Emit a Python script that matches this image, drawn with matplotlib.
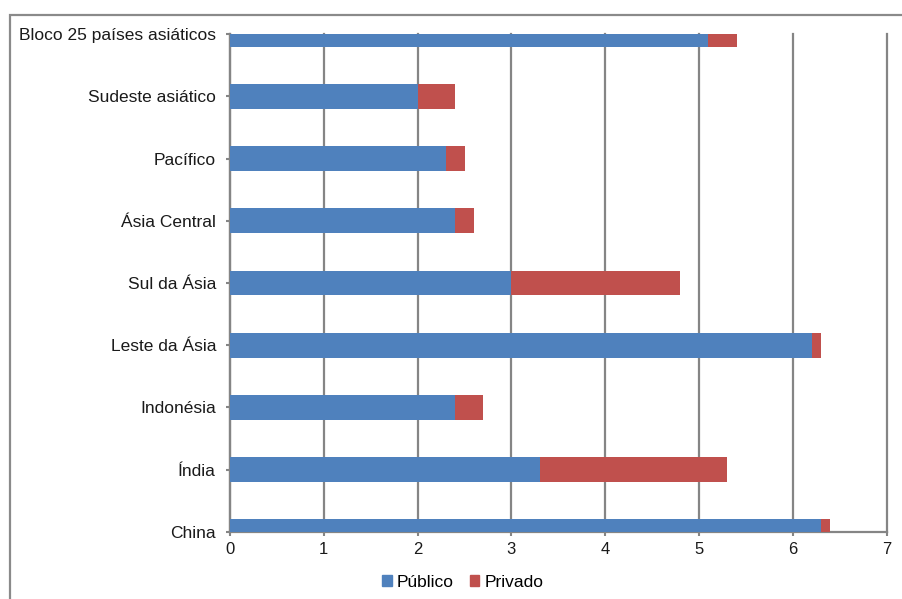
import matplotlib
matplotlib.use("Agg")
import matplotlib.pyplot as plt
from matplotlib.patches import Rectangle, Patch

# spending shares by region, bottom to top
regioes = ["China", "Índia", "Indonésia", "Leste da Ásia", "Sul da Ásia",
           "Ásia Central", "Pacífico", "Sudeste asiático",
           "Bloco 25 países asiáticos"]
publico = [6.3, 3.3, 2.4, 6.2, 3.0, 2.4, 2.3, 2.0, 5.1]
privado = [0.1, 2.0, 0.3, 0.1, 1.8, 0.2, 0.2, 0.4, 0.3]
xticks = [0, 1, 2, 3, 4, 5, 6, 7]

AZUL = "#4F81BD"
VERMELHO = "#C0504D"
CINZA = "#858585"

plt.rcParams["font.family"] = ["Liberation Sans", "DejaVu Sans"]

fig = plt.figure(figsize=(9.02, 5.99), dpi=100)
ax = fig.add_axes([0.255, 0.112, 0.728, 0.831])

pos = list(range(len(regioes)))
ax.barh(pos, publico, height=0.4, color=AZUL, zorder=3)
ax.barh(pos, privado, left=publico, height=0.4, color=VERMELHO, zorder=3)

ax.set_xlim(0, 7)
ax.set_ylim(0, len(regioes) - 1)
ax.set_xticks(xticks)
ax.set_yticks(pos)
ax.set_yticklabels(regioes)
ax.tick_params(axis="both", labelsize=12.5, colors=CINZA, labelcolor="#1a1a1a",
               length=3, width=1.5, direction="out")
ax.tick_params(axis="y", pad=7)
ax.tick_params(axis="x", pad=4, labelsize=12)

ax.xaxis.grid(True, color=CINZA, linewidth=1.6, zorder=1)
ax.set_axisbelow(True)
# keep the last gridline (x = 7) at full width on the axes edge
for linha in ax.xaxis.get_gridlines():
    linha.set_clip_on(False)
for lado in ("top", "right"):
    ax.spines[lado].set_visible(False)
for lado in ("left", "bottom"):
    ax.spines[lado].set_color(CINZA)
    ax.spines[lado].set_linewidth(1.6)

handles = [Patch(color=AZUL, label="Público"), Patch(color=VERMELHO, label="Privado")]
fig.legend(handles=handles, loc="center", bbox_to_anchor=(0.513, 0.028),
           ncol=2, frameon=False, fontsize=12.5, handlelength=0.55,
           handleheight=0.55, handletextpad=0.3, columnspacing=0.9)

# outer frame around the chart
fig.patches.append(Rectangle((0.011, -0.05), 1.1, 1.025, transform=fig.transFigure,
                             fill=False, edgecolor="#8a8a8a", linewidth=1.6))

fig.savefig("out.png", dpi=100)
